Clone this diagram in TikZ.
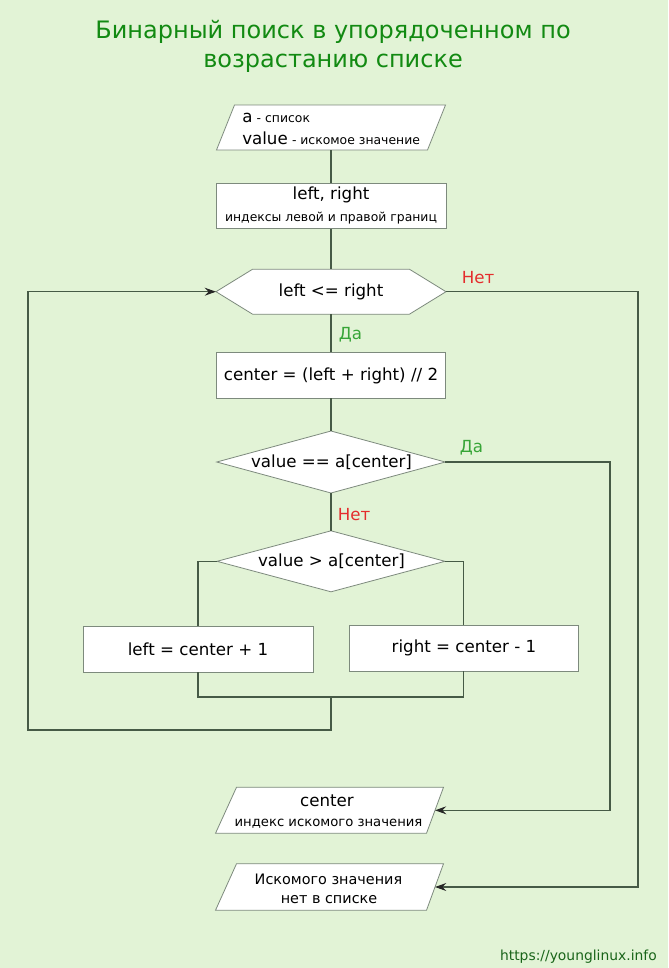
\documentclass[tikz,border=0pt]{standalone}
\usepackage{fontspec}
\setmainfont{DejaVu Sans}
\usetikzlibrary{arrows.meta,calc}
\definecolor{bgc}{RGB}{226,243,214}
\definecolor{titlec}{RGB}{18,138,18}
\definecolor{urlc}{RGB}{25,100,25}
\definecolor{noc}{RGB}{228,45,45}
\definecolor{yesc}{RGB}{55,165,55}
\definecolor{shpc}{RGB}{125,138,125}
\definecolor{linec}{RGB}{70,90,70}
\newcommand\PX{0.75pt}
\newcommand\ftitle{\fontsize{18}{22}\selectfont}
\newcommand\fmain{\fontsize{12.5}{15}\selectfont}
\newcommand\fsmall{\fontsize{9.3}{11}\selectfont}
\newcommand\fsmallb{\fontsize{9.9}{12}\selectfont}
\newcommand\fout{\fontsize{10.8}{13}\selectfont}
\newcommand\furl{\fontsize{10.4}{12}\selectfont}
\begin{document}
\begin{tikzpicture}[x=0.75pt,y=-0.75pt,
  box/.style={draw=shpc, line width=0.6pt, fill=white, inner sep=0pt, outer sep=0pt},
  frame/.style={draw=none, inner sep=0pt, outer sep=0pt},
  outline/.style={draw=shpc, line width=0.6pt, fill=white, line join=miter},
  conn/.style={draw=linec, line width=0.8pt},
  arr/.style={conn, -{Stealth[length=8.5pt,width=6pt,inset=3pt,color=black!85]}},
  tb/.style={inner sep=0pt, anchor=base},
  tbw/.style={inner sep=0pt, anchor=base west},
]
\path[fill=bgc, use as bounding box] (0,0) rectangle (668,968);

% title
\node[tb, font=\ftitle, text=titlec] (title1) at (333,38) {Бинарный поиск в упорядоченном по};
\node[tb, font=\ftitle, text=titlec] (title2) at (333,67) {возрастанию списке};

% frames
\node[frame, minimum width=211*\PX, minimum height=45*\PX] (in) at (331,127.5) {};
\node[box, minimum width=230*\PX, minimum height=45.5*\PX] (r1) at (331,206) {};
\node[frame, minimum width=230*\PX, minimum height=45*\PX] (cond) at (331,291.7) {};
\node[box, minimum width=229*\PX, minimum height=46*\PX] (r2) at (331,375) {};
\node[frame, minimum width=228.5*\PX, minimum height=62*\PX] (eq) at (331,462) {};
\node[frame, minimum width=228*\PX, minimum height=61*\PX] (gt) at (331,561.3) {};
\node[box, minimum width=230*\PX, minimum height=46*\PX] (lr) at (198,649) {};
\node[box, minimum width=229*\PX, minimum height=46*\PX] (rr) at (463.5,648) {};
\node[frame, minimum width=209*\PX, minimum height=46*\PX] (out1) at (330.5,810.3) {};
\node[frame, minimum width=209*\PX, minimum height=46.5*\PX] (out2) at (330.5,887) {};

% outlines
\path[outline] ([shift={(9,0)}]in.north west) -- ([shift={(9,0)}]in.north east)
  -- ([shift={(-9,0)}]in.south east) -- ([shift={(-9,0)}]in.south west) -- cycle;
\path[outline] (cond.west) -- ([shift={(36.6,0)}]cond.north west) -- ([shift={(-36.6,0)}]cond.north east)
  -- (cond.east) -- ([shift={(-36.6,0)}]cond.south east) -- ([shift={(36.6,0)}]cond.south west) -- cycle;
\path[outline] (eq.north) -- (eq.east) -- (eq.south) -- (eq.west) -- cycle;
\path[outline] (gt.north) -- (gt.east) -- (gt.south) -- (gt.west) -- cycle;
\path[outline] ([shift={(10.5,0)}]out1.north west) -- ([shift={(8.5,0)}]out1.north east)
  -- ([shift={(-8.5,0)}]out1.south east) -- ([shift={(-10.5,0)}]out1.south west) -- cycle;
\path[outline] ([shift={(10.5,0)}]out2.north west) -- ([shift={(8.5,0)}]out2.north east)
  -- ([shift={(-8.5,0)}]out2.south east) -- ([shift={(-10.5,0)}]out2.south west) -- cycle;

% texts
\node[tbw] (inA) at (242,122) {{\fmain a} {\fsmall - список}};
\node[tbw] (inB) at (242,144) {{\fmain value} {\fsmall - искомое значение}};
\node[tb, font=\fmain] (r1A) at (331,199) {left, right};
\node[tb, font=\fsmall] (r1B) at (331,221) {индексы левой и правой границ};
\node[tb, font=\fmain] (condT) at (331,296.5) {left <= right};
\node[tb, font=\fmain] (r2T) at (331,380.5) {center = (left + right) // 2};
\node[tb, font=\fmain] (eqT) at (331.5,467) {value == a[center]};
\node[tb, font=\fmain] (gtT) at (331.5,566.5) {value > a[center]};
\node[tb, font=\fmain] (lrT) at (198,655) {left = center + 1};
\node[tb, font=\fmain] (rrT) at (464,652.5) {right = center - 1};
\node[tb, font=\fmain] (o1A) at (327,806) {center};
\node[tb, font=\fsmallb] (o1B) at (328.5,826.5) {индекс искомого значения};
\node[tb, font=\fout] (o2A) at (328.5,884) {Искомого значения};
\node[tb, font=\fout] (o2B) at (329,903.5) {нет в списке};

% labels
\node[tbw, font=\fmain, text=noc] (lno1) at (461.5,283) {Нет};
\node[tbw, font=\fmain, text=yesc] (lyes1) at (338.5,339) {Да};
\node[tbw, font=\fmain, text=yesc] (lyes2) at (459.5,452) {Да};
\node[tbw, font=\fmain, text=noc] (lno2) at (337.5,520.5) {Нет};
\node[inner sep=0pt, anchor=base east, font=\furl, text=urlc] (url) at (657,960) {https://younglinux.info};

% connector points
\coordinate (join) at (331,697);
\coordinate (lbot) at (331,730);
\coordinate (lleft) at (28,730);
\coordinate (yc) at (610,810.3);
\coordinate (nc) at (638,887);

% connectors
\draw[conn] (in.south) -- (r1.north);
\draw[conn] (r1.south) -- (cond.north);
\draw[conn] (cond.south) -- (r2.north);
\draw[conn] (r2.south) -- (eq.north);
\draw[conn] (eq.south) -- (gt.north);
\draw[conn] (gt.west) -| (lr.north);
\draw[conn] (gt.east) -| (rr.north);
\draw[conn] (lr.south) |- (join) -| (rr.south);
\draw[arr] (join) -- (lbot) -- (lleft) |- (cond.west);
\draw[arr] (eq.east) -| (yc) -- (out1.east);
\draw[arr] (cond.east) -| (nc) -- (out2.east);
\end{tikzpicture}
\end{document}
